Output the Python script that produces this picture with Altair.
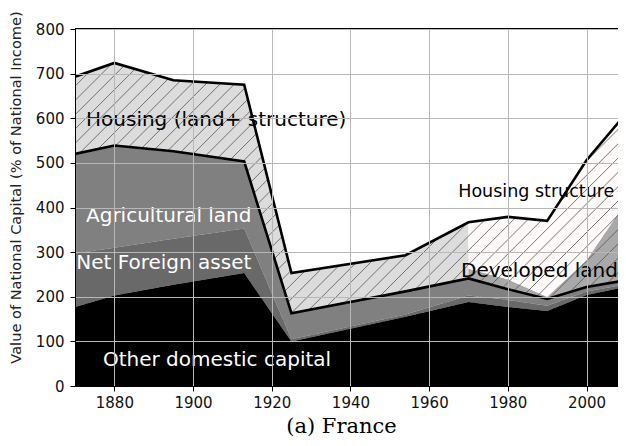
import altair as alt
import pandas as pd
import numpy as np

# ---- data (values in % of national income) ----
years = [1870, 1880, 1895, 1913, 1925, 1954, 1970, 1980, 1990, 2000, 2010]
other_domestic = [177, 203, 227, 253, 100, 155, 188, 177, 168, 204, 222]
net_foreign = [120, 107, 103, 100, 5, 5, 15, 16, 12, 8, 6]
agricultural_land = [223, 229, 196, 150, 58, 52, 38, 24, 15, 10, 9]

housing_years = [1870, 1880, 1895, 1913, 1925, 1954, 1970]
housing_land_structure = [173, 185, 159, 172, 90, 81, 126]

recent_years = [1970, 1980, 1990, 2000, 2010]
developed_land = [22, 22, 5, 60, 175]
housing_structure = [104, 140, 170, 224, 198]

x_ticks = [1880, 1900, 1920, 1940, 1960, 1980, 2000]
y_ticks = [0, 100, 200, 300, 400, 500, 600, 700, 800]

label_texts = ["Housing (land+ structure)", "Agricultural land", "Net Foreign asset",
               "Other domestic capital", "Housing structure", "Developed land"]
label_years = [1872.8, 1872.8, 1870.3, 1877.1, 1967.4, 1968.1]
label_values = [597, 381, 275, 58, 434, 257]
label_colors = ["black", "white", "white", "white", "black", "black"]
label_sizes = [20, 20, 20, 20, 17.5, 20]

# ---- build stacked tables ----
c1 = np.array(other_domestic)
c2 = c1 + np.array(net_foreign)
c3 = c2 + np.array(agricultural_land)
base = dict(zip(years, c3))

df_other = pd.DataFrame({"year": years, "y0": 0, "y1": c1})
df_nfa = pd.DataFrame({"year": years, "y0": c1, "y1": c2})
df_agri = pd.DataFrame({"year": years, "y0": c2, "y1": c3})

h0 = np.array([base[y] for y in housing_years])
df_house = pd.DataFrame({"year": housing_years, "y0": h0, "y1": h0 + np.array(housing_land_structure)})

r0 = np.array([base[y] for y in recent_years])
r1 = r0 + np.array(developed_land)
r2 = r1 + np.array(housing_structure)
df_dev = pd.DataFrame({"year": recent_years, "y0": r0, "y1": r1})
df_struct = pd.DataFrame({"year": recent_years, "y0": r1, "y1": r2})

total_map = dict(zip(housing_years, df_house["y1"]))
total_map.update(dict(zip(recent_years, r2)))
df_total = pd.DataFrame({"year": years, "y0": [total_map[y] for y in years], "y1": 800})
df_agri_line = pd.DataFrame({"year": years, "v": c3})
df_total_line = pd.DataFrame({"year": years, "v": [total_map[y] for y in years]})

# hatch texture (45 degree lines in screen space)
W, H = 543, 357
XMIN, XMAX = 1870, 2008
px_per_year = W / (XMAX - XMIN)
run_years = H / px_per_year
step_years = 14.3 / px_per_year
starts = np.arange(XMIN - run_years, XMAX + step_years, step_years)
df_hatch = pd.DataFrame({"x": starts, "x2": starts + run_years, "y": 0, "y2": 800})

df_labels = pd.DataFrame({"text": label_texts, "year": label_years,
                          "v": label_values, "color": label_colors, "size": label_sizes})

# ---- encodings ----
xscale = alt.Scale(domain=[XMIN, XMAX], nice=False, zero=False)
yscale = alt.Scale(domain=[0, 800], nice=False)

xaxis = alt.Axis(values=x_ticks, format="d", title="(a) France",
                 titleFont="DejaVu Serif", titleFontSize=21, titleFontWeight="normal",
                 titleColor="black", titleX=266, titleY=46, titleBaseline="alphabetic",
                 titleAlign="center", titleAnchor="start",
                 labelFontSize=15, labelColor="#111111", labelPadding=4,
                 tickSize=5, tickColor="black", domainColor="black",
                 grid=True, gridColor="#b8b8b8", gridWidth=1, zindex=1)
yaxis = alt.Axis(values=y_ticks, title="Value of National Capital (% of National Income)",
                 titleFontSize=14.6, titleFontWeight="normal", titleColor="#222222",
                 titleX=-58.5, titleY=158, titleAngle=270, titleBaseline="middle",
                 titleAlign="center", titleAnchor="start",
                 labelFontSize=15, labelColor="#111111", labelPadding=6,
                 tickSize=5, tickColor="black", domainColor="black",
                 grid=True, gridColor="#b8b8b8", gridWidth=1, zindex=1)


def area(df, color):
    return alt.Chart(df).mark_area(color=color, clip=True, opacity=1, strokeWidth=0).encode(
        x=alt.X("year:Q", scale=xscale, axis=xaxis),
        y=alt.Y("y0:Q", scale=yscale, axis=yaxis),
        y2="y1:Q",
    )


def line(df):
    return alt.Chart(df).mark_line(color="black", strokeWidth=2.6, clip=True).encode(
        x=alt.X("year:Q", scale=xscale, axis=xaxis),
        y=alt.Y("v:Q", scale=yscale, axis=yaxis),
    )


hatch = alt.Chart(df_hatch).mark_rule(color="#555555", strokeWidth=0.8, clip=True).encode(
    x=alt.X("x:Q", scale=xscale, axis=xaxis), x2="x2:Q",
    y=alt.Y("y:Q", scale=yscale, axis=yaxis), y2="y2:Q",
)

top_spine = alt.Chart(df_total_line).mark_rule(color="black", strokeWidth=1).encode(
    y=alt.datum(800, scale=yscale)
)

texts = alt.Chart(df_labels).mark_text(align="left", baseline="middle",
                                       font="DejaVu Sans", clip=True).encode(
    x=alt.X("year:Q", scale=xscale, axis=xaxis),
    y=alt.Y("v:Q", scale=yscale, axis=yaxis),
    text="text:N",
    color=alt.Color("color:N", scale=None),
    size=alt.Size("size:Q", scale=None),
)

chart = alt.layer(
    area(df_house, "#dcdcdc"),
    area(df_dev, "#a9a9a9"),
    area(df_struct, "#fffafa"),
    hatch,
    area(df_total, "white"),
    area(df_agri, "#808080"),
    area(df_nfa, "#696969"),
    area(df_other, "black"),
    line(df_agri_line),
    line(df_total_line),
    top_spine,
    texts,
).properties(
    width=W, height=H,
    autosize=alt.AutoSizeParams(type="none"),
    padding={"left": 67, "top": 21, "right": 0, "bottom": 52},
).configure(font="DejaVu Sans").configure_view(strokeWidth=0)

chart.save("out.html", embed_options={"renderer": "svg", "actions": False})
